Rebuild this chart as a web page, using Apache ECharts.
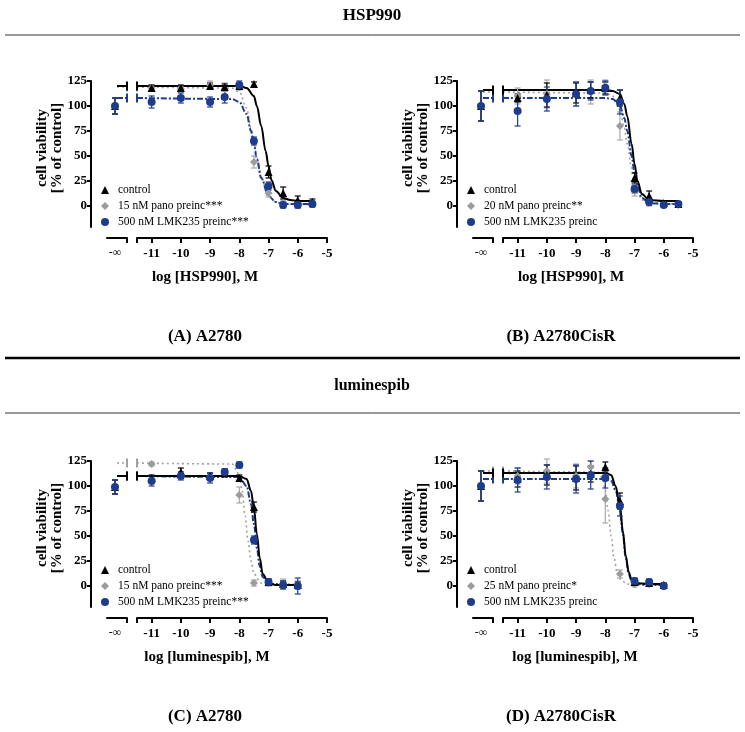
<!DOCTYPE html>
<html><head><meta charset="utf-8">
<script src="https://cdn.jsdelivr.net/npm/echarts@6/dist/echarts.min.js"></script>
<style>html,body{margin:0;padding:0;background:#fff}#c{width:745px;height:732px}</style>
</head><body><div id="c"></div>
<script>
// ---------- tick labels ----------
const xTickValues = [-11, -10, -9, -8, -7, -6, -5];
const yTickValues = [0, 25, 50, 75, 100, 125];

// ---------- Panel A : HSP990, A2780 ----------
const A_doses = [-11, -10, -9, -8.5, -8, -7.5, -7, -6.5, -6, -5.5];
const A_control = [118, 118, 120, 119, 120, 122, 34, 13, 6, 4];
const A_controlErr = [3, 3, 3, 3, 3, 2, 6, 6, 4, 3];
const A_pano = [118, 117, 121, 117, 119, 44, 13, 3, 2, 2];
const A_panoErr = [3, 3, 4, 6, 3, 6, 4, 2, 2, 2];
const A_lmk = [104, 108, 104, 109, 121, 65, 20, 1, 1, 2];
const A_lmkErr = [6, 5, 5, 6, 4, 4, 4, 3, 3, 3];
const A_inf = [100, 100, 100];
const A_infErr = [8, 8, 8];
const A_controlFit = [[-11.5,120],[-8,120],[-7.75,118],[-7.5,110],[-7.4,100],[-7.25,80],[-7.1,55],[-7,40],[-6.9,26],[-6.75,15],[-6.5,8],[-6.25,6],[-6,5],[-5.5,5]];
const A_panoFit = [[-11.5,119],[-8.25,118],[-8,114],[-7.75,98],[-7.6,78],[-7.5,64],[-7.4,48],[-7.25,28],[-7,10],[-6.75,4],[-6.5,2],[-5.5,2]];
const A_lmkFit = [[-11.5,108],[-8.25,107],[-8,104],[-7.75,92],[-7.6,75],[-7.5,62],[-7.4,47],[-7.25,28],[-7,10],[-6.75,4],[-6.5,2],[-5.5,2]];
const A_legend = ['control', '15 nM pano preinc***', '500 nM LMK235 preinc***'];

// ---------- Panel B : HSP990, A2780CisR ----------
const B_doses = [-11, -10, -9, -8.5, -8, -7.5, -7, -6.5, -6, -5.5];
const B_control = [108, 111, 113, 116, 118, 108, 28, 10, 3, 2];
const B_controlErr = [4, 12, 10, 8, 6, 8, 5, 5, 2, 2];
const B_pano = [110, 112, 112, 114, 120, 80, 15, 3, 1, 1];
const B_panoErr = [8, 14, 12, 12, 6, 14, 5, 3, 2, 2];
const B_lmk = [95, 107, 112, 115, 118, 104, 17, 4, 1, 2];
const B_lmkErr = [15, 12, 12, 9, 7, 12, 4, 3, 2, 2];
const B_inf = [100, 100, 100];
const B_infErr = [15, 15, 15];
const B_controlFit = [[-11.5,116],[-8,116],[-7.75,115],[-7.5,112],[-7.35,102],[-7.25,90],[-7.1,62],[-7,42],[-6.9,25],[-6.75,12],[-6.5,6],[-6,5],[-5.5,5]];
const B_panoFit = [[-11.5,114],[-8,113],[-7.75,110],[-7.5,96],[-7.35,78],[-7.25,62],[-7.1,38],[-7,24],[-6.9,14],[-6.75,6],[-6.5,3],[-5.5,2]];
const B_lmkFit = [[-11.5,108],[-8,108],[-7.75,107],[-7.5,100],[-7.35,88],[-7.25,75],[-7.1,50],[-7,33],[-6.9,20],[-6.75,8],[-6.5,3],[-6,2],[-5.5,2]];
const B_legend = ['control', '20 nM pano preinc**', '500 nM LMK235 preinc'];

// ---------- Panel C : luminespib, A2780 ----------
const C_doses = [-11, -10, -9, -8.5, -8, -7.5, -7, -6.5, -6];
const C_control = [108, 114, 110, 113, 108, 79, 4, 2, 1];
const C_controlErr = [3, 4, 3, 4, 3, 5, 3, 3, 3];
const C_pano = [122, 111, 109, 112, 91, 3, 3, 2, 1];
const C_panoErr = [2, 3, 3, 3, 8, 3, 3, 5, 4];
const C_lmk = [105, 110, 108, 114, 121, 46, 4, 1, 0];
const C_lmkErr = [5, 4, 5, 3, 3, 4, 3, 4, 8];
const C_inf = [99, 99, 99];
const C_infErr = [7, 7, 7];
const C_controlFit = [[-11.5,110],[-8,110],[-7.75,107],[-7.6,95],[-7.5,78],[-7.4,52],[-7.3,28],[-7.2,12],[-7,3],[-6.75,1],[-6,1]];
const C_panoFit = [[-11.5,123],[-8.25,122],[-8,112],[-7.9,95],[-7.8,70],[-7.7,45],[-7.6,25],[-7.5,12],[-7.25,3],[-7,1],[-6,1]];
const C_lmkFit = [[-11.5,110],[-8,109],[-7.75,100],[-7.6,82],[-7.5,62],[-7.4,38],[-7.3,20],[-7.2,9],[-7,2],[-6,1]];
const C_legend = ['control', '15 nM pano preinc***', '500 nM LMK235 preinc***'];

// ---------- Panel D : luminespib, A2780CisR ----------
const D_doses = [-11, -10, -9, -8.5, -8, -7.5, -7, -6.5, -6];
const D_control = [107, 111, 108, 112, 119, 85, 4, 3, 1];
const D_controlErr = [8, 10, 12, 8, 5, 8, 3, 3, 2];
const D_pano = [110, 115, 110, 119, 87, 12, 2, 2, 1];
const D_panoErr = [8, 12, 12, 6, 24, 4, 3, 2, 2];
const D_lmk = [106, 109, 107, 111, 108, 80, 5, 4, 0];
const D_lmkErr = [12, 12, 14, 14, 10, 10, 3, 3, 2];
const D_inf = [100, 100, 100];
const D_infErr = [15, 15, 15];
const D_controlFit = [[-11.5,113],[-8,113],[-7.8,111],[-7.65,100],[-7.5,80],[-7.4,55],[-7.3,30],[-7.2,14],[-7.1,6],[-7,3],[-6.5,2],[-6,2]];
const D_panoFit = [[-11.5,115],[-8.25,114],[-8.1,108],[-8,96],[-7.9,75],[-7.8,50],[-7.7,28],[-7.6,14],[-7.5,7],[-7.25,2],[-7,1],[-6,1]];
const D_lmkFit = [[-11.5,107],[-8,107],[-7.8,105],[-7.65,96],[-7.5,77],[-7.4,52],[-7.3,28],[-7.2,12],[-7.1,5],[-7,2],[-6.5,1],[-6,1]];
const D_legend = ['control', '25 nM pano preinc*', '500 nM LMK235 preinc'];

// ---------- assembly ----------
const SERIF = "'Liberation Serif','DejaVu Serif',serif";
const NAVY = '#1d3c8e', GREY = '#9b9b9b', BLACK = '#000';

const panels = [
  {dx:0, dy:0, doses:A_doses, vals:[A_control,A_pano,A_lmk], errs:[A_controlErr,A_panoErr,A_lmkErr], inf:A_inf, infErr:A_infErr, fits:[A_controlFit,A_panoFit,A_lmkFit], names:A_legend},
  {dx:366, dy:0, doses:B_doses, vals:[B_control,B_pano,B_lmk], errs:[B_controlErr,B_panoErr,B_lmkErr], inf:B_inf, infErr:B_infErr, fits:[B_controlFit,B_panoFit,B_lmkFit], names:B_legend},
  {dx:0, dy:380, doses:C_doses, vals:[C_control,C_pano,C_lmk], errs:[C_controlErr,C_panoErr,C_lmkErr], inf:C_inf, infErr:C_infErr, fits:[C_controlFit,C_panoFit,C_lmkFit], names:C_legend},
  {dx:366, dy:380, doses:D_doses, vals:[D_control,D_pano,D_lmk], errs:[D_controlErr,D_panoErr,D_lmkErr], inf:D_inf, infErr:D_infErr, fits:[D_controlFit,D_panoFit,D_lmkFit], names:D_legend}
];

const styles = [
  {color:BLACK, errColor:BLACK, symbol:'triangle', size:8, line:{color:BLACK, width:2, type:'solid'}},
  {color:GREY, errColor:'#a8a8a8', symbol:'diamond', size:8, line:{color:'#a0a0a0', width:1.6, type:[2,3]}},
  {color:NAVY, errColor:NAVY, symbol:'circle', size:8, line:{color:NAVY, width:2, type:[6,2,2,2]}}
];

function errRender(color) {
  return function (params, api) {
    const x = api.value(0), y = api.value(1), e = api.value(2);
    const t = api.coord([x, y + e]), b = api.coord([x, y - e]);
    const w = 3;
    const st = {stroke: color, lineWidth: 1.2};
    return {type: 'group', children: [
      {type: 'line', shape: {x1: t[0], y1: t[1], x2: b[0], y2: b[1]}, style: st},
      {type: 'line', shape: {x1: t[0] - w, y1: t[1], x2: t[0] + w, y2: t[1]}, style: st},
      {type: 'line', shape: {x1: b[0] - w, y1: b[1], x2: b[0] + w, y2: b[1]}, style: st}
    ]};
  };
}

const grid = [], xAxis = [], yAxis = [], series = [], legend = [];
const axisLineStyle = {show: true, onZero: false, lineStyle: {color: '#000', width: 2}};
const tickFont = {fontFamily: SERIF, fontSize: 13, fontWeight: 'bold', color: '#000'};

panels.forEach((p, i) => {
  const L = 2 * i, M = 2 * i + 1;
  const top = 81 + p.dy, height = 146;
  grid.push({left: 107 + p.dx, top: top, width: 20, height: height});
  grid.push({left: 137 + p.dx, top: top, width: 190, height: height});
  xAxis.push({gridIndex: L, type: 'value', min: 0, max: 1, offset: 11, position: 'bottom',
    axisLine: axisLineStyle, splitLine: {show: false},
    axisTick: {customValues: [1], length: 5, lineStyle: {width: 2, color: '#000'}},
    axisLabel: {customValues: [0.4], formatter: () => '-\u221e', margin: 9, fontFamily: SERIF, fontSize: 12, color: '#000'}});
  xAxis.push({gridIndex: M, type: 'value', min: -11.5, max: -5, offset: 11, position: 'bottom',
    axisLine: axisLineStyle, splitLine: {show: false},
    axisTick: {customValues: [-11.5].concat(xTickValues), length: 5, lineStyle: {width: 2, color: '#000'}},
    axisLabel: Object.assign({customValues: xTickValues, margin: 9, formatter: v => String(v)}, tickFont)});
  yAxis.push({gridIndex: L, type: 'value', min: -21, max: 125, offset: 16, position: 'left',
    axisLine: axisLineStyle, splitLine: {show: false},
    axisTick: {customValues: yTickValues, length: 4, lineStyle: {width: 2, color: '#000'}},
    axisLabel: Object.assign({customValues: yTickValues, margin: 4}, tickFont)});
  yAxis.push({gridIndex: M, type: 'value', min: -21, max: 125, show: false, splitLine: {show: false}});

  // fitted curves (main part + -inf stub + break marks)
  [1, 2, 0].forEach(k => {
    const st = styles[k];
    const fit = p.fits[k];
    series.push({type: 'line', xAxisIndex: M, yAxisIndex: M, data: fit, showSymbol: false, smooth: 0.35,
      smoothMonotone: 'x', lineStyle: st.line, z: 2, silent: true});
    series.push({type: 'line', xAxisIndex: L, yAxisIndex: L, data: [[0.5, fit[0][1]], [1, fit[0][1]]],
      showSymbol: false, lineStyle: st.line, z: 2, silent: true});
    series.push({type: 'scatter', xAxisIndex: L, yAxisIndex: L, data: [[1, fit[0][1]]], symbol: 'rect',
      symbolSize: [2, 9], itemStyle: {color: st.line.color, opacity: 1}, z: 2, silent: true});
    series.push({type: 'scatter', xAxisIndex: M, yAxisIndex: M, data: [[-11.5, fit[0][1]]], symbol: 'rect',
      symbolSize: [2, 9], itemStyle: {color: st.line.color, opacity: 1}, z: 2, silent: true});
  });

  // error bars and points
  [1, 0, 2].forEach(k => {
    const st = styles[k];
    const pts = p.doses.map((d, j) => [d, p.vals[k][j]]);
    const errs = p.doses.map((d, j) => [d, p.vals[k][j], p.errs[k][j]]);
    series.push({type: 'custom', xAxisIndex: M, yAxisIndex: M, data: errs, renderItem: errRender(st.errColor),
      encode: {x: 0, y: 1}, z: 3, silent: true});
    series.push({type: 'custom', xAxisIndex: L, yAxisIndex: L, data: [[0.4, p.inf[k], p.infErr[k]]],
      renderItem: errRender(st.errColor), encode: {x: 0, y: 1}, z: 3, silent: true});
    series.push({name: p.names[k], type: 'scatter', xAxisIndex: M, yAxisIndex: M, data: pts,
      symbol: st.symbol, symbolSize: st.size, itemStyle: {color: st.color, opacity: 1}, z: 4});
    series.push({name: p.names[k], type: 'scatter', xAxisIndex: L, yAxisIndex: L, data: [[0.4, p.inf[k]]],
      symbol: st.symbol, symbolSize: st.size, itemStyle: {color: st.color, opacity: 1}, z: 4});
  });

  legend.push({left: 96 + p.dx, top: 179 + p.dy, orient: 'vertical', itemWidth: 8, itemHeight: 8, itemGap: 4,
    selectedMode: false,
    data: p.names.map((n, k) => ({name: n, icon: styles[k].symbol, itemStyle: {color: styles[k].color, opacity: 1}})),
    textStyle: {fontFamily: SERIF, fontSize: 11.5, color: '#000', lineHeight: 12, padding: [0, 0, 0, 4]}});
});

function txt(x, y, text, size, weight, rot) {
  const o = {type: 'text', x: x, y: y, silent: true,
    style: {text: text, fontFamily: SERIF, fontSize: size, fontWeight: weight || 'normal', fill: '#000',
      align: 'center', verticalAlign: 'middle'}};
  if (rot) o.rotation = rot;
  return o;
}
function hline(y, w, c) {
  return {type: 'line', silent: true, shape: {x1: 5, y1: y, x2: 740, y2: y}, style: {stroke: c, lineWidth: w}};
}

const graphic = [
  txt(372, 16, 'HSP990', 17, 'bold'),
  hline(35, 1, '#333'),
  txt(205, 337, '(A) A2780', 17, 'bold'),
  txt(561, 337, '(B) A2780CisR', 17, 'bold'),
  hline(358, 2.5, '#000'),
  txt(372, 386, 'luminespib', 16, 'bold'),
  hline(413, 1, '#333'),
  txt(205, 717, '(C) A2780', 17, 'bold'),
  txt(561, 717, '(D) A2780CisR', 17, 'bold'),
  txt(205, 277, 'log [HSP990], M', 15, 'bold'),
  txt(571, 277, 'log [HSP990], M', 15, 'bold'),
  txt(207, 657, 'log [luminespib], M', 15, 'bold'),
  txt(575, 657, 'log [luminespib], M', 15, 'bold')
];
[[0, 0], [366, 0], [0, 380], [366, 380]].forEach(([dx, dy]) => {
  graphic.push(txt(42 + dx, 148 + dy, 'cell viability', 15, 'bold', Math.PI / 2));
  graphic.push(txt(57 + dx, 148 + dy, '[% of control]', 15, 'bold', Math.PI / 2));
});

const chart = echarts.init(document.getElementById('c'), null, {renderer: 'canvas'});
chart.setOption({
  animation: false,
  backgroundColor: '#fff',
  grid: grid, xAxis: xAxis, yAxis: yAxis, series: series, legend: legend, graphic: graphic
});
</script>
</body></html>
